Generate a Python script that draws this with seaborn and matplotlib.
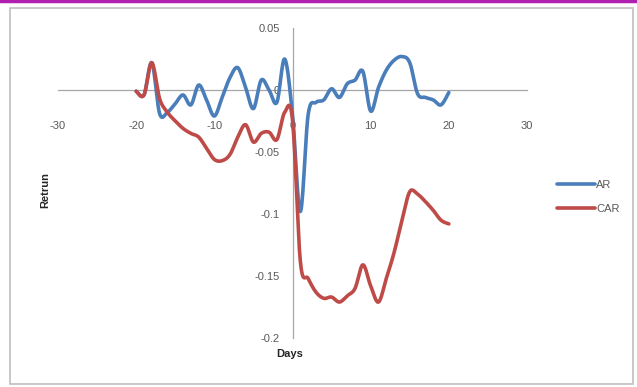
import numpy as np
import pandas as pd
import seaborn as sns
import matplotlib
matplotlib.use("Agg")
import matplotlib.pyplot as plt
from matplotlib.lines import Line2D
from matplotlib.patches import Rectangle

# Event window (days relative to the event)
days = list(range(-20, 21))

# Abnormal returns
ar = [-0.001, -0.004, 0.022, -0.019, -0.018, -0.011, -0.004, -0.012, 0.004, -0.008,
      -0.021, -0.006, 0.010, 0.018, 0.002, -0.015, 0.008, 0.000, -0.010, 0.025,
      -0.020, -0.098, -0.020, -0.010, -0.008, 0.001, -0.006, 0.005, 0.008, 0.015,
      -0.017, 0.002, 0.016, 0.024, 0.027, 0.022, -0.003, -0.006, -0.008, -0.012,
      -0.002]

# Cumulative abnormal returns
car = [-0.001, -0.004, 0.022, -0.007, -0.018, -0.025, -0.031, -0.035, -0.038, -0.047,
       -0.056, -0.057, -0.052, -0.038, -0.028, -0.042, -0.035, -0.034, -0.040, -0.018,
       -0.024, -0.138, -0.152, -0.163, -0.168, -0.167, -0.171, -0.166, -0.160, -0.141,
       -0.158, -0.171, -0.152, -0.131, -0.105, -0.082, -0.084, -0.090, -0.097, -0.105,
       -0.108]

series_names = ["AR", "CAR"]
x_ticks = [-30, -20, -10, 0, 10, 20, 30]
y_ticks = [-0.2, -0.15, -0.1, -0.05, 0, 0.05]
y_tick_labels = ["-0.2", "-0.15", "-0.1", "-0.05", "0", "0.05"]

colors = {"AR": "#4A7EBB", "CAR": "#BE4B48"}
text_color = "#595959"


def smooth_curve(xs, ys, steps=16):
    """Catmull-Rom rendering of a series (smoothed line style)."""
    xs = np.asarray(xs, float)
    ys = np.asarray(ys, float)
    px = np.concatenate([[xs[0]], xs, [xs[-1]]])
    py = np.concatenate([[ys[0]], ys, [ys[-1]]])
    out_x, out_y = [], []
    t = np.linspace(0, 1, steps, endpoint=False)
    for i in range(1, len(px) - 2):
        for arr, out in ((px, out_x), (py, out_y)):
            p0, p1, p2, p3 = arr[i - 1], arr[i], arr[i + 1], arr[i + 2]
            out.extend(0.5 * ((2 * p1) + (-p0 + p2) * t
                              + (2 * p0 - 5 * p1 + 4 * p2 - p3) * t ** 2
                              + (-p0 + 3 * p1 - 3 * p2 + p3) * t ** 3))
    out_x.append(xs[-1])
    out_y.append(ys[-1])
    return np.array(out_x), np.array(out_y)


frames = []
for name, vals in zip(series_names, [ar, car]):
    sx, sy = smooth_curve(days, vals)
    frames.append(pd.DataFrame({"day": sx, "ret": sy, "series": name,
                                "order": np.arange(len(sx))}))
df = pd.concat(frames, ignore_index=True)

sns.set_theme(style="white")
plt.rcParams["font.family"] = ["Liberation Sans", "DejaVu Sans"]

fig = plt.figure(figsize=(6.37, 3.87), dpi=100)
ax = fig.add_axes([58 / 637, 49 / 387, 469 / 637, 310 / 387])

# Chart frame
fig.patches.append(Rectangle((10 / 637, 3 / 387), 623 / 637, 376 / 387,
                             transform=fig.transFigure, fill=False,
                             edgecolor="#BFBFBF", linewidth=1.2))
fig.lines.append(Line2D([0, 1], [1 - 1 / 387, 1 - 1 / 387], transform=fig.transFigure,
                        color="#B020B0", linewidth=2.5))

sns.lineplot(data=df, x="day", y="ret", hue="series", palette=colors,
             sort=False, estimator=None, units="series", linewidth=2.6,
             legend=False, ax=ax)

ax.set_xlim(-30, 30)
ax.set_ylim(-0.2, 0.05)

# Axes crossing at the origin
for side in ("top", "right"):
    ax.spines[side].set_visible(False)
ax.spines["left"].set_position(("data", 0))
ax.spines["bottom"].set_position(("data", 0))
for side in ("left", "bottom"):
    ax.spines[side].set_color("#A6A6A6")
    ax.spines[side].set_linewidth(0.9)
ax.spines["left"].set_zorder(0)
ax.spines["bottom"].set_zorder(0)

ax.set_xticks(x_ticks)
ax.set_xticklabels([str(v) for v in x_ticks])
ax.set_yticks(y_ticks)
ax.set_yticklabels(y_tick_labels)
ax.tick_params(axis="x", length=0, pad=22, labelsize=8, labelcolor=text_color)
ax.tick_params(axis="y", length=0, pad=9, labelsize=8, labelcolor=text_color)
for lbl in ax.get_xticklabels() + ax.get_yticklabels():
    lbl.set_zorder(1)

ax.set_xlabel("")
ax.set_ylabel("")
fig.text(290 / 637, 1 - 354 / 387, "Days", ha="center", va="center",
         fontsize=8, fontweight="bold", color="#262626")
fig.text(45 / 637, 1 - 190 / 387, "Retrun", ha="center", va="center",
         rotation=90, fontsize=8, fontweight="bold", color="#262626")

handles = [Line2D([], [], color=colors[n], linewidth=2.6) for n in series_names]
fig.legend(handles, series_names, loc="center left",
           bbox_to_anchor=(553 / 637, 1 - 197 / 387), frameon=False,
           fontsize=8, labelcolor=text_color, handlelength=3.4,
           handletextpad=0.1, labelspacing=1.3, borderaxespad=0)

fig.savefig("out.png", dpi=100, facecolor="white")
